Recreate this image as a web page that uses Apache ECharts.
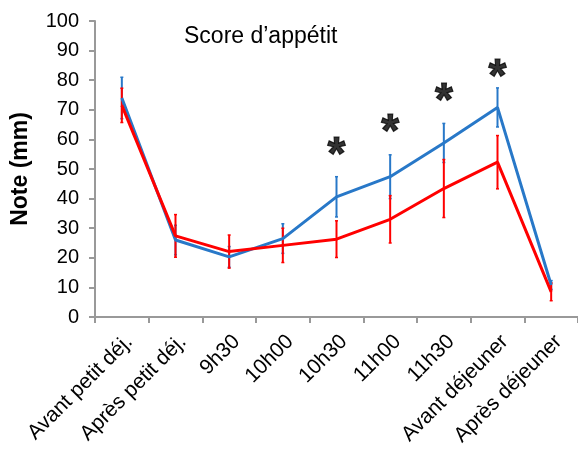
<!DOCTYPE html>
<html><head><meta charset="utf-8">
<script src="https://cdn.jsdelivr.net/npm/echarts@6/dist/echarts.min.js"></script>
<style>html,body{margin:0;padding:0;background:#fff}#c{width:578px;height:458px}</style>
</head><body><div id="c"></div>
<script>
const categories = ['Avant petit déj.', 'Après petit déj.', '9h30', '10h00', '10h30', '11h00', '11h30', 'Avant déjeuner', 'Après déjeuner'];
const blueValues = [74, 26, 20.3, 26.5, 40.6, 47.4, 58.8, 70.8, 10.8];
const blueErrors = [7, 5, 3.5, 5, 6.8, 7.4, 6.6, 6.6, 1.5];
const redValues = [71.5, 27.4, 22.1, 24.2, 26.3, 33, 43.4, 52.3, 8.5];
const redErrors = [5.8, 7.2, 5.6, 5.8, 6.2, 8, 9.8, 9, 3];
const sigCategories = ['10h30', '11h00', '11h30', 'Avant déjeuner'];
const sigLevels = [57.5, 65.6, 75.8, 84];
const yTicks = [0, 10, 20, 30, 40, 50, 60, 70, 80, 90, 100];

const FONT = 'Liberation Sans, Arial, sans-serif';
const BLUE = '#2878C8', RED = '#FF0000';

function errorSeries(vals, errs, color) {
  return {
    type: 'custom',
    data: vals.map((v, i) => [i, v - errs[i], v + errs[i]]),
    renderItem: function (params, api) {
      const lo = api.coord([api.value(0), api.value(1)]);
      const hi = api.coord([api.value(0), api.value(2)]);
      return {
        type: 'group',
        children: [
          { type: 'line', shape: { x1: lo[0], y1: lo[1], x2: hi[0], y2: hi[1] }, style: { stroke: color, lineWidth: 2 } },
          { type: 'line', shape: { x1: lo[0] - 1.5, y1: lo[1], x2: lo[0] + 1.5, y2: lo[1] }, style: { stroke: color, lineWidth: 1.5 } },
          { type: 'line', shape: { x1: hi[0] - 1.5, y1: hi[1], x2: hi[0] + 1.5, y2: hi[1] }, style: { stroke: color, lineWidth: 1.5 } }
        ]
      };
    },
    z: 3,
    silent: true
  };
}

const chart = echarts.init(document.getElementById('c'), null, { renderer: 'canvas' });
chart.setOption({
  animation: false,
  backgroundColor: '#fff',
  textStyle: { fontFamily: FONT },
  title: {
    text: 'Score d\u2019appétit',
    left: 179, top: 20,
    textStyle: { fontFamily: FONT, fontSize: 23, fontWeight: 'normal', color: '#000' }
  },
  grid: { left: 95, right: -5, top: 21, bottom: 141, containLabel: false },
  xAxis: {
    type: 'category',
    data: categories,
    boundaryGap: true,
    axisLine: { lineStyle: { color: '#999', width: 2 } },
    axisTick: { show: true, length: 6, lineStyle: { color: '#999', width: 2 } },
    axisLabel: { rotate: 45, interval: 0, fontSize: 21, color: '#000', fontFamily: FONT, margin: 14,
      verticalAlign: 'top' },
    splitLine: { show: false }
  },
  yAxis: {
    type: 'value',
    min: 0, max: 100, interval: 10,
    name: 'Note (mm)',
    nameLocation: 'middle',
    nameGap: 63,
    nameTextStyle: { fontFamily: FONT, fontSize: 23, fontWeight: 'bold', color: '#000' },
    axisLine: { show: true, lineStyle: { color: '#999', width: 2 } },
    axisTick: { show: true, length: 6, lineStyle: { color: '#999', width: 2 } },
    axisLabel: { fontSize: 20, color: '#000', fontFamily: FONT, margin: 16,
      formatter: v => yTicks.includes(v) ? String(v) : '' },
    splitLine: { show: false }
  },
  series: [
    errorSeries(blueValues, blueErrors, BLUE),
    errorSeries(redValues, redErrors, RED),
    { type: 'line', data: blueValues, symbol: 'none', lineStyle: { color: BLUE, width: 3 }, itemStyle: { color: BLUE }, z: 4 },
    { type: 'line', data: redValues, symbol: 'none', lineStyle: { color: RED, width: 3 }, itemStyle: { color: RED }, z: 5 },
    {
      type: 'scatter',
      data: sigCategories.map((c, i) => [c, sigLevels[i]]),
      symbol: 'circle', symbolSize: 1,
      itemStyle: { color: 'rgba(0,0,0,0)' },
      label: { show: true, formatter: '*', position: 'inside', offset: [0, 10],
        fontSize: 46, fontWeight: 'bold', color: '#000', fontFamily: FONT,
        textBorderColor: '#000', textBorderWidth: 1.2 },
      z: 6, silent: true
    }
  ]
});
</script>
</body></html>
